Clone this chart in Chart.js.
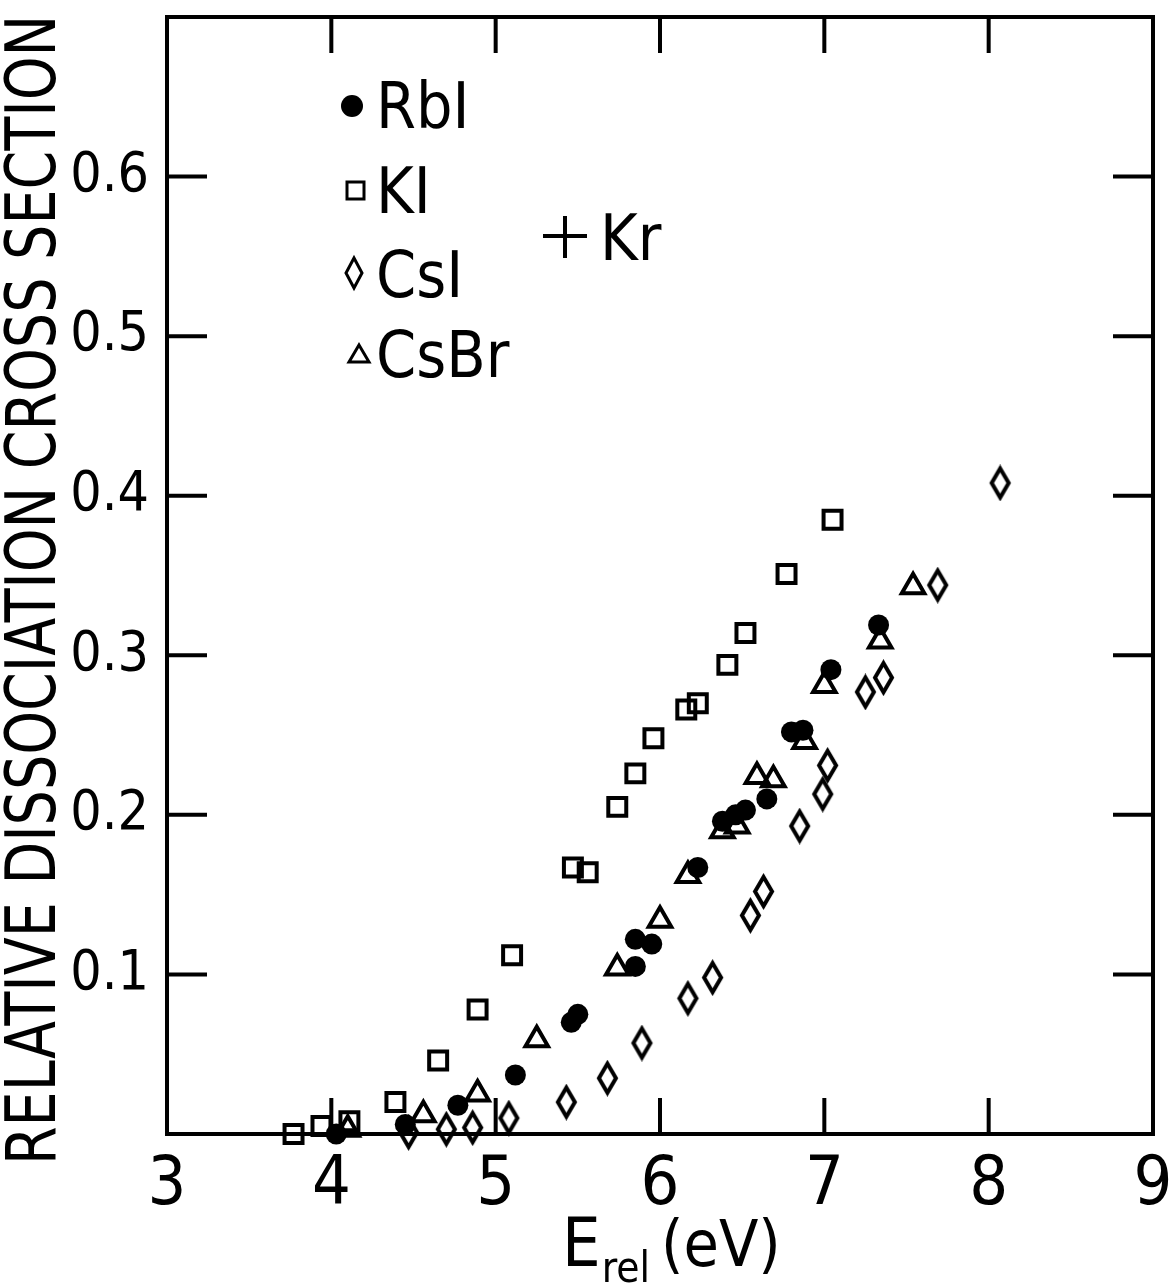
<!DOCTYPE html>
<html>
<head>
<meta charset="utf-8">
<script src="https://cdn.jsdelivr.net/npm/chart.js@4.4.0/dist/chart.umd.min.js"></script>
<style>
  html, body { margin: 0; padding: 0; background: #fff; }
  #wrap { width: 1172px; height: 1287px; }
</style>
</head>
<body>
<div id="wrap"><canvas id="myChart"></canvas></div>
<script>
const FONT = "'Liberation Sans Narrow', 'DejaVu Sans Condensed', 'Arial Narrow', sans-serif";

// E_rel (eV) / relative dissociation cross section
const rbiX = [4.03, 4.45, 4.77, 5.12, 5.46, 5.50, 5.85, 5.95, 5.85, 6.23, 6.38, 6.46, 6.52, 6.65, 6.80, 6.87, 7.04, 7.33];
const rbiY = [0.000, 0.006, 0.018, 0.037, 0.070, 0.075, 0.122, 0.119, 0.105, 0.167, 0.196, 0.200, 0.203, 0.210, 0.252, 0.253, 0.291, 0.319];

const kiX = [3.77, 3.94, 4.11, 4.39, 4.65, 4.89, 5.10, 5.47, 5.56, 5.74, 5.85, 5.96, 6.16, 6.23, 6.41, 6.52, 6.77, 7.05];
const kiY = [0.000, 0.005, 0.008, 0.020, 0.046, 0.078, 0.112, 0.167, 0.164, 0.205, 0.226, 0.248, 0.266, 0.270, 0.294, 0.314, 0.351, 0.385];

const csiX = [4.47, 4.70, 4.86, 5.08, 5.43, 5.68, 5.89, 6.17, 6.32, 6.55, 6.63, 6.85, 6.99, 7.02, 7.25, 7.36, 7.69, 8.07];
const csiY = [0.001, 0.003, 0.004, 0.010, 0.020, 0.035, 0.057, 0.085, 0.098, 0.137, 0.152, 0.193, 0.213, 0.231, 0.277, 0.286, 0.344, 0.408];

const csbrX = [4.10, 4.56, 4.89, 5.25, 5.74, 6.00, 6.17, 6.38, 6.47, 6.59, 6.69, 6.88, 7.00, 7.34, 7.54];
const csbrY = [0.003, 0.012, 0.025, 0.059, 0.104, 0.134, 0.162, 0.190, 0.193, 0.224, 0.222, 0.246, 0.281, 0.309, 0.343];

const xTicks = [3, 4, 5, 6, 7, 8, 9];
const yTicks = [0.1, 0.2, 0.3, 0.4, 0.5, 0.6];

const names = ["RbI", "KI", "CsI", "CsBr"];

function pts(xs, ys) {
  return xs.map((x, i) => ({ x: x, y: ys[i] }));
}

// tall thin diamond, used as point image
function diamondImg(w, h, lw) {
  const c = document.createElement("canvas");
  c.width = w + lw * 2;
  c.height = h + lw * 2;
  const g = c.getContext("2d");
  const cx = c.width / 2, cy = c.height / 2;
  g.strokeStyle = "#000";
  g.lineWidth = lw;
  g.beginPath();
  g.moveTo(cx, cy - h / 2);
  g.lineTo(cx + w / 2, cy);
  g.lineTo(cx, cy + h / 2);
  g.lineTo(cx - w / 2, cy);
  g.closePath();
  g.stroke();
  return c;
}
const diamond = diamondImg(17, 29, 4);

// frame + inward ticks on all 4 sides
const frame = {
  id: "frame",
  beforeDatasetsDraw(chart) {
    const { ctx, chartArea: a, scales } = chart;
    ctx.save();
    ctx.strokeStyle = "#000";
    ctx.lineWidth = 4;
    ctx.strokeRect(a.left, a.top, a.right - a.left, a.bottom - a.top);
    ctx.beginPath();
    xTicks.slice(1, -1).forEach((v) => {
      const px = scales.x.getPixelForValue(v);
      ctx.moveTo(px, a.top); ctx.lineTo(px, a.top + 36);
      ctx.moveTo(px, a.bottom); ctx.lineTo(px, a.bottom - 36);
    });
    yTicks.forEach((v) => {
      const py = scales.y.getPixelForValue(v);
      ctx.moveTo(a.left, py); ctx.lineTo(a.left + 40, py);
      ctx.moveTo(a.right, py); ctx.lineTo(a.right - 40, py);
    });
    ctx.stroke();
    ctx.restore();
  },
};

// titles and the in-plot key
const labels = {
  id: "labels",
  afterDraw(chart) {
    const { ctx } = chart;
    ctx.save();
    ctx.fillStyle = "#000";
    ctx.strokeStyle = "#000";

    // y title, squeezed to run the full height
    const yt = "RELATIVE DISSOCIATION CROSS SECTION";
    ctx.font = "70px " + FONT;
    const w = ctx.measureText(yt).width;
    ctx.translate(37, 590);
    ctx.rotate(-Math.PI / 2);
    ctx.scale(1150 / w, 1);
    ctx.textAlign = "center";
    ctx.textBaseline = "middle";
    ctx.fillText(yt, 0, 0);
    ctx.setTransform(1, 0, 0, 1, 0, 0);

    // x title with subscript
    ctx.textAlign = "left";
    ctx.textBaseline = "alphabetic";
    ctx.font = "68px " + FONT;
    ctx.fillText("E", 562, 1266);
    const eW = ctx.measureText("E").width;
    ctx.font = "42px " + FONT;
    ctx.fillText("rel", 562 + eW + 1, 1282);
    const rW = ctx.measureText("rel").width;
    ctx.font = "64px " + FONT;
    ctx.fillText("(eV)", 562 + eW + rW + 12, 1266);

    // key
    ctx.font = "64px " + FONT;
    const keyY = [128, 213, 297, 377];
    ctx.lineWidth = 3;
    ctx.beginPath(); ctx.arc(352, 106, 11, 0, Math.PI * 2); ctx.fill();
    ctx.strokeRect(347, 182, 17, 17);
    ctx.beginPath();
    ctx.moveTo(354, 258); ctx.lineTo(362, 273); ctx.lineTo(354, 288); ctx.lineTo(346, 273);
    ctx.closePath(); ctx.stroke();
    ctx.beginPath();
    ctx.moveTo(359, 345); ctx.lineTo(369, 362); ctx.lineTo(349, 362);
    ctx.closePath(); ctx.stroke();
    names.forEach((n, i) => ctx.fillText(n, 376, keyY[i]));

    // + Kr
    ctx.lineWidth = 4;
    ctx.beginPath();
    ctx.moveTo(543, 236); ctx.lineTo(587, 236);
    ctx.moveTo(565, 216); ctx.lineTo(565, 258);
    ctx.stroke();
    ctx.fillText("Kr", 600, 260);
    ctx.restore();
  },
};

const ctx = document.querySelector("#myChart");
new Chart(ctx, {
  type: "scatter",
  data: {
    datasets: [
      {
        label: names[0],
        data: pts(rbiX, rbiY),
        pointStyle: "circle",
        pointRadius: 10.5,
        backgroundColor: "#000",
        borderWidth: 0,
        clip: false,
      },
      {
        label: names[1],
        data: pts(kiX, kiY),
        pointStyle: "rect",
        pointRadius: 12.7,
        backgroundColor: "rgba(0,0,0,0)",
        borderColor: "#000",
        borderWidth: 4,
        clip: false,
      },
      {
        label: names[2],
        data: pts(csiX, csiY),
        pointStyle: diamond,
        pointRadius: 14,
        backgroundColor: "rgba(0,0,0,0)",
        borderColor: "#000",
        clip: false,
      },
      {
        label: names[3],
        data: pts(csbrX, csbrY),
        pointStyle: "triangle",
        pointRadius: 13,
        backgroundColor: "rgba(0,0,0,0)",
        borderColor: "#000",
        borderWidth: 4,
        clip: false,
      },
    ],
  },
  options: {
    responsive: true,
    maintainAspectRatio: false,
    devicePixelRatio: 1,
    animation: false,
    events: [],
    layout: { padding: { top: 12, right: 19, left: 0, bottom: 0 } },
    plugins: { legend: { display: false }, tooltip: { enabled: false } },
    scales: {
      x: {
        type: "linear",
        min: 3,
        max: 9,
        afterFit(s) {
          s.height = 153;
          s.paddingLeft = 0;
          s.paddingRight = 0;
        },
        grid: { display: false, drawTicks: false },
        border: { display: false },
        ticks: {
          stepSize: 1,
          autoSkip: false,
          maxRotation: 0,
          padding: 12,
          color: "#000",
          font: { family: FONT, size: 68 },
          callback: (v) => (xTicks.includes(v) ? String(v) : ""),
        },
      },
      y: {
        type: "linear",
        min: 0,
        max: 0.7,
        afterFit(s) {
          s.width = 167;
          s.paddingTop = 0;
          s.paddingBottom = 0;
        },
        grid: { display: false, drawTicks: false },
        border: { display: false },
        ticks: {
          stepSize: 0.1,
          autoSkip: false,
          padding: 18,
          color: "#000",
          font: { family: FONT, size: 55 },
          callback: (v) => {
            const r = Math.round(v * 10) / 10;
            return yTicks.includes(r) ? r.toFixed(1) : "";
          },
        },
      },
    },
  },
  plugins: [frame, labels],
});
</script>
</body>
</html>
